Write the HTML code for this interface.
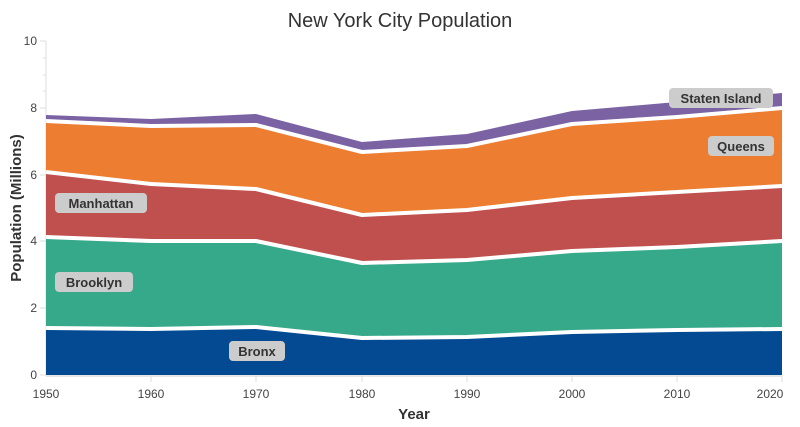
<!DOCTYPE html>
<html><head><style>body{margin:0;background:#fff}svg{display:block;font-family:"Liberation Sans",sans-serif}</style></head><body>
<svg width="800" height="427" viewBox="0 0 800 427">
<text x="400" y="27" text-anchor="middle" font-size="20" fill="#333">New York City Population</text>
<g stroke="#ddd" stroke-width="1">
<line x1="46" y1="41" x2="46" y2="375"/>
<line x1="40" y1="41" x2="46" y2="41"/><line x1="40" y1="108" x2="46" y2="108"/><line x1="40" y1="175" x2="46" y2="175"/><line x1="40" y1="241" x2="46" y2="241"/><line x1="40" y1="308" x2="46" y2="308"/><line x1="40" y1="375" x2="46" y2="375"/>
<line x1="43" y1="58" x2="46" y2="58"/><line x1="43" y1="75" x2="46" y2="75"/><line x1="43" y1="91" x2="46" y2="91"/>
</g>
<g>
<path fill="#7b62a3" d="M46,115 L151,119 L256,114 L362,142 L467,134 L572,111 L677,102 L782,93 L782,375 L46,375Z"/>
<path fill="#ec7d31" d="M46,121 L151,126 L256,125 L362,152 L467,146 L572,124 L677,117 L782,108 L782,375 L46,375Z"/>
<path fill="#c0504d" d="M46,172 L151,184 L256,189 L362,215 L467,210 L572,198 L677,192 L782,186 L782,375 L46,375Z"/>
<path fill="#37a98b" d="M46,237 L151,241 L256,241 L362,263 L467,260 L572,251 L677,247 L782,241 L782,375 L46,375Z"/>
<path fill="#034a93" d="M46,328 L151,329 L256,327 L362,338 L467,337 L572,332 L677,330 L782,329 L782,375 L46,375Z"/>
</g>
<g fill="none" stroke="#fff" stroke-width="4" stroke-linejoin="round">
<path d="M46,121 L151,126 L256,125 L362,152 L467,146 L572,124 L677,117 L782,108"/>
<path d="M46,172 L151,184 L256,189 L362,215 L467,210 L572,198 L677,192 L782,186"/>
<path d="M46,237 L151,241 L256,241 L362,263 L467,260 L572,251 L677,247 L782,241"/>
<path d="M46,328 L151,329 L256,327 L362,338 L467,337 L572,332 L677,330 L782,329"/>
</g>
<line x1="46" y1="376" x2="782" y2="376" stroke="#ccc"/>
<g stroke="#ddd"><line x1="151" y1="376" x2="151" y2="382"/><line x1="256" y1="376" x2="256" y2="382"/><line x1="362" y1="376" x2="362" y2="382"/><line x1="467" y1="376" x2="467" y2="382"/><line x1="572" y1="376" x2="572" y2="382"/><line x1="677" y1="376" x2="677" y2="382"/><line x1="782" y1="376" x2="782" y2="382"/></g>
<g font-size="12" fill="#444" text-anchor="end"><text x="37" y="45">10</text><text x="37" y="112">8</text><text x="37" y="179">6</text><text x="37" y="245">4</text><text x="37" y="312">2</text><text x="37" y="379">0</text></g>
<g font-size="12" fill="#444" text-anchor="middle"><text x="46" y="398">1950</text><text x="151" y="398">1960</text><text x="256" y="398">1970</text><text x="362" y="398">1980</text><text x="467" y="398">1990</text><text x="572" y="398">2000</text><text x="677" y="398">2010</text><text x="770" y="398">2020</text></g>
<text x="414" y="419" text-anchor="middle" font-size="15" font-weight="bold" fill="#333">Year</text>
<text transform="translate(21,208) rotate(-90)" text-anchor="middle" font-size="15" font-weight="bold" fill="#333">Population (Millions)</text>
<g font-size="13" font-weight="bold" fill="#333" text-anchor="middle">
<rect x="229" y="341" width="56" height="20" rx="4" fill="#ccc"/><text x="257" y="356">Bronx</text>
<rect x="55" y="272" width="78" height="20" rx="4" fill="#ccc"/><text x="94" y="287">Brooklyn</text>
<rect x="55" y="193" width="92" height="20" rx="4" fill="#ccc"/><text x="101" y="208">Manhattan</text>
<rect x="708" y="136" width="66" height="20" rx="4" fill="#ccc"/><text x="741" y="151">Queens</text>
<rect x="669" y="88" width="104" height="20" rx="4" fill="#ccc"/><text x="721" y="103">Staten Island</text>
</g>
</svg>
</body></html>
